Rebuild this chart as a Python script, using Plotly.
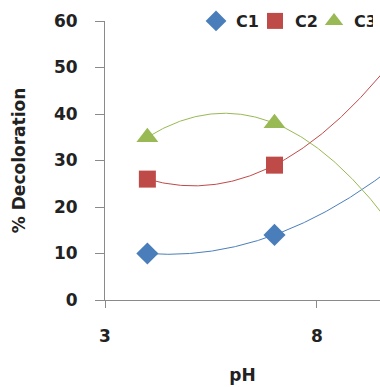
import numpy as np
import plotly.graph_objects as go

ph = [4, 7, 10]
c1 = [10, 14, 30]
c2 = [26, 29, 54]
c3 = [35, 38, 13]

names = ["C1", "C2", "C3"]
series = [c1, c2, c3]
colors = ["#4A7EBB", "#BE4B48", "#98B954"]
symbols = ["diamond", "square", "triangle-up"]
sizes = [17, 17, 19]

FONT = "DejaVu Sans"

fig = go.Figure()
xs = np.linspace(min(ph), max(ph), 200)
for name, ys, col in zip(names, series, colors):
    coef = np.polyfit(ph, ys, 2)
    fig.add_trace(go.Scatter(x=xs, y=np.polyval(coef, xs), mode="lines",
                             line=dict(color=col, width=1), showlegend=False,
                             hoverinfo="skip"))
for name, ys, col, sym, sz in zip(names, series, colors, symbols, sizes):
    fig.add_trace(go.Scatter(x=ph, y=ys, mode="markers", name=name,
                             marker=dict(symbol=sym, color=col, size=sz)))

fig.update_layout(
    width=380, height=387,
    margin=dict(l=105, r=0, t=21, b=87, autoexpand=False),
    paper_bgcolor="white", plot_bgcolor="white",
    font=dict(family=FONT, color="#222222", size=17),
    legend=dict(orientation="h", x=0.331, xanchor="left", y=1.0, yanchor="middle",
                font=dict(family=FONT, size=16, color="#222222", weight="bold"),
                itemwidth=30, entrywidth=14, entrywidthmode="pixels",
                bgcolor="rgba(0,0,0,0)"),
    xaxis=dict(range=[3, 9.49], tickvals=[3, 8], ticktext=["<b>3</b>", "<b>8</b>"],
               showgrid=False, zeroline=False, showline=True, linecolor="#8a8a8a",
               linewidth=1, ticks="outside", ticklen=7, tickcolor="#8a8a8a",
               ticklabelstandoff=14, automargin=False,
               title=dict(text="<b>pH</b>", font=dict(size=17), standoff=23)),
    yaxis=dict(range=[0, 60], tickvals=[0, 10, 20, 30, 40, 50, 60],
               ticktext=["<b>%d</b>" % v for v in [0, 10, 20, 30, 40, 50, 60]],
               showgrid=False, zeroline=False, showline=True, linecolor="#8a8a8a",
               linewidth=1, ticks="outside", ticklen=9, tickcolor="#8a8a8a",
               ticklabelstandoff=14, automargin=False,
               title=dict(text="<b>% Decoloration</b>", font=dict(size=17), standoff=23)),
)

# remove the default page margin so the 380x387 figure fills the window exactly
fig.write_html("out.html",
               config={"displayModeBar": False},
               post_script="document.body.style.margin='0';document.body.style.overflow='hidden';")
